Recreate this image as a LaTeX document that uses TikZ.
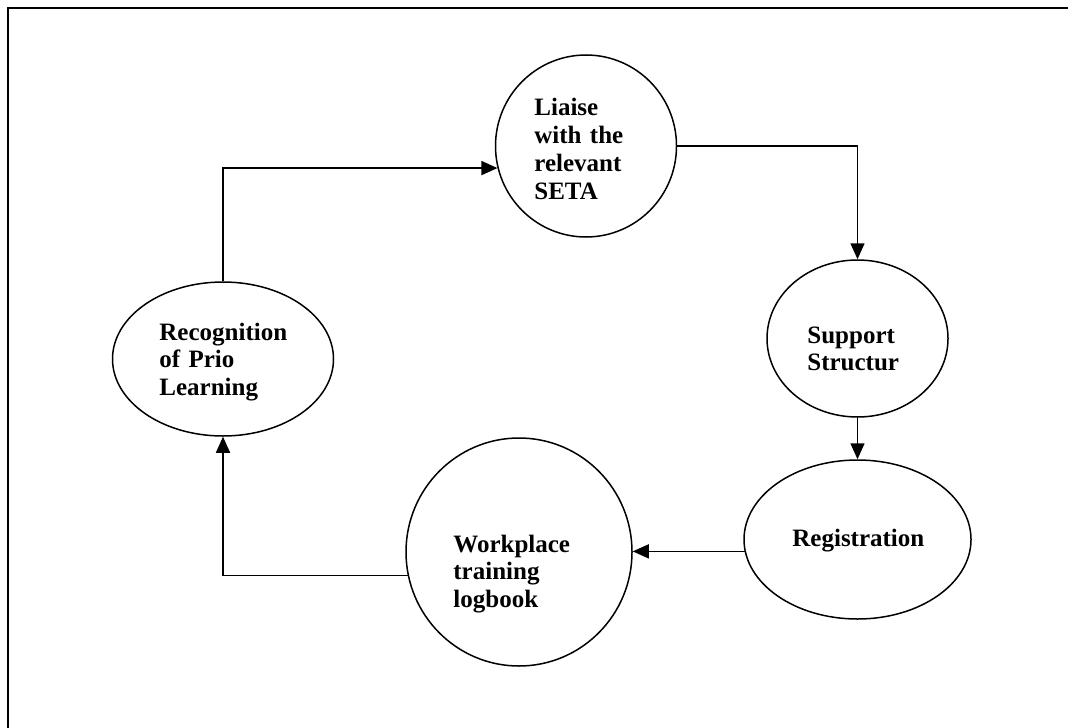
\documentclass[tikz,border=0pt]{standalone}
\usepackage{fontspec}
\setmainfont{Liberation Serif}
\usetikzlibrary{shapes.geometric,arrows.meta}
\begin{document}
\begin{tikzpicture}[x=0.5pt,y=-0.5pt,
  bubble/.style={draw,ellipse,line width=0.75pt,inner sep=0pt},
  label/.style={anchor=base west,inner sep=0pt,text width=80pt,align=left,
    font=\fontsize{12.5}{13.9}\selectfont\bfseries},
  arr/.style={line width=0.75pt,-{Triangle[length=8pt,width=7pt]}},
  frame/.style={line width=1.2pt}]
\useasboundingbox (0,0) rectangle (1068,727);
\clip (0,0) rectangle (1068,727);
\draw[frame] (1090,8) -- (8,8) -- (8,760);
% ellipses
\node[bubble,minimum width=90.5pt,minimum height=91pt] (liaise) at (586,146) {};
\node[bubble,minimum width=110.5pt,minimum height=77pt] (recog) at (223,359) {};
\node[bubble,minimum width=90.5pt,minimum height=78.5pt] (support) at (857.5,338.5) {};
\node[bubble,minimum width=113.5pt,minimum height=79.5pt] (regis) at (857.5,539.5) {};
\node[bubble,minimum width=113pt,minimum height=114pt] (work) at (519,552) {};
% texts
\node[label] (tliaise) at (534,116) {Liaise\\with the\\relevant\\SETA};
\node[label] (trecog) at (159,340) {Recognition\\of Prio\\Learning};
\node[label] (tsupport) at (807,343) {Support\\Structur};
\node[label] (tregis) at (792,546) {Registration};
\node[label] (twork) at (453,552) {Workplace\\training\\logbook};
% connectors
\draw[arr] (recog.north) |- (liaise.194.6);
\draw[arr] (liaise.east) -| (support.north);
\draw[arr] (support.south) -- (regis.north);
\draw[arr] (regis.186.6) -- (regis.186.6 -| work.east);
\draw[arr] (work.192.3) -| (recog.south);
\end{tikzpicture}
\end{document}
